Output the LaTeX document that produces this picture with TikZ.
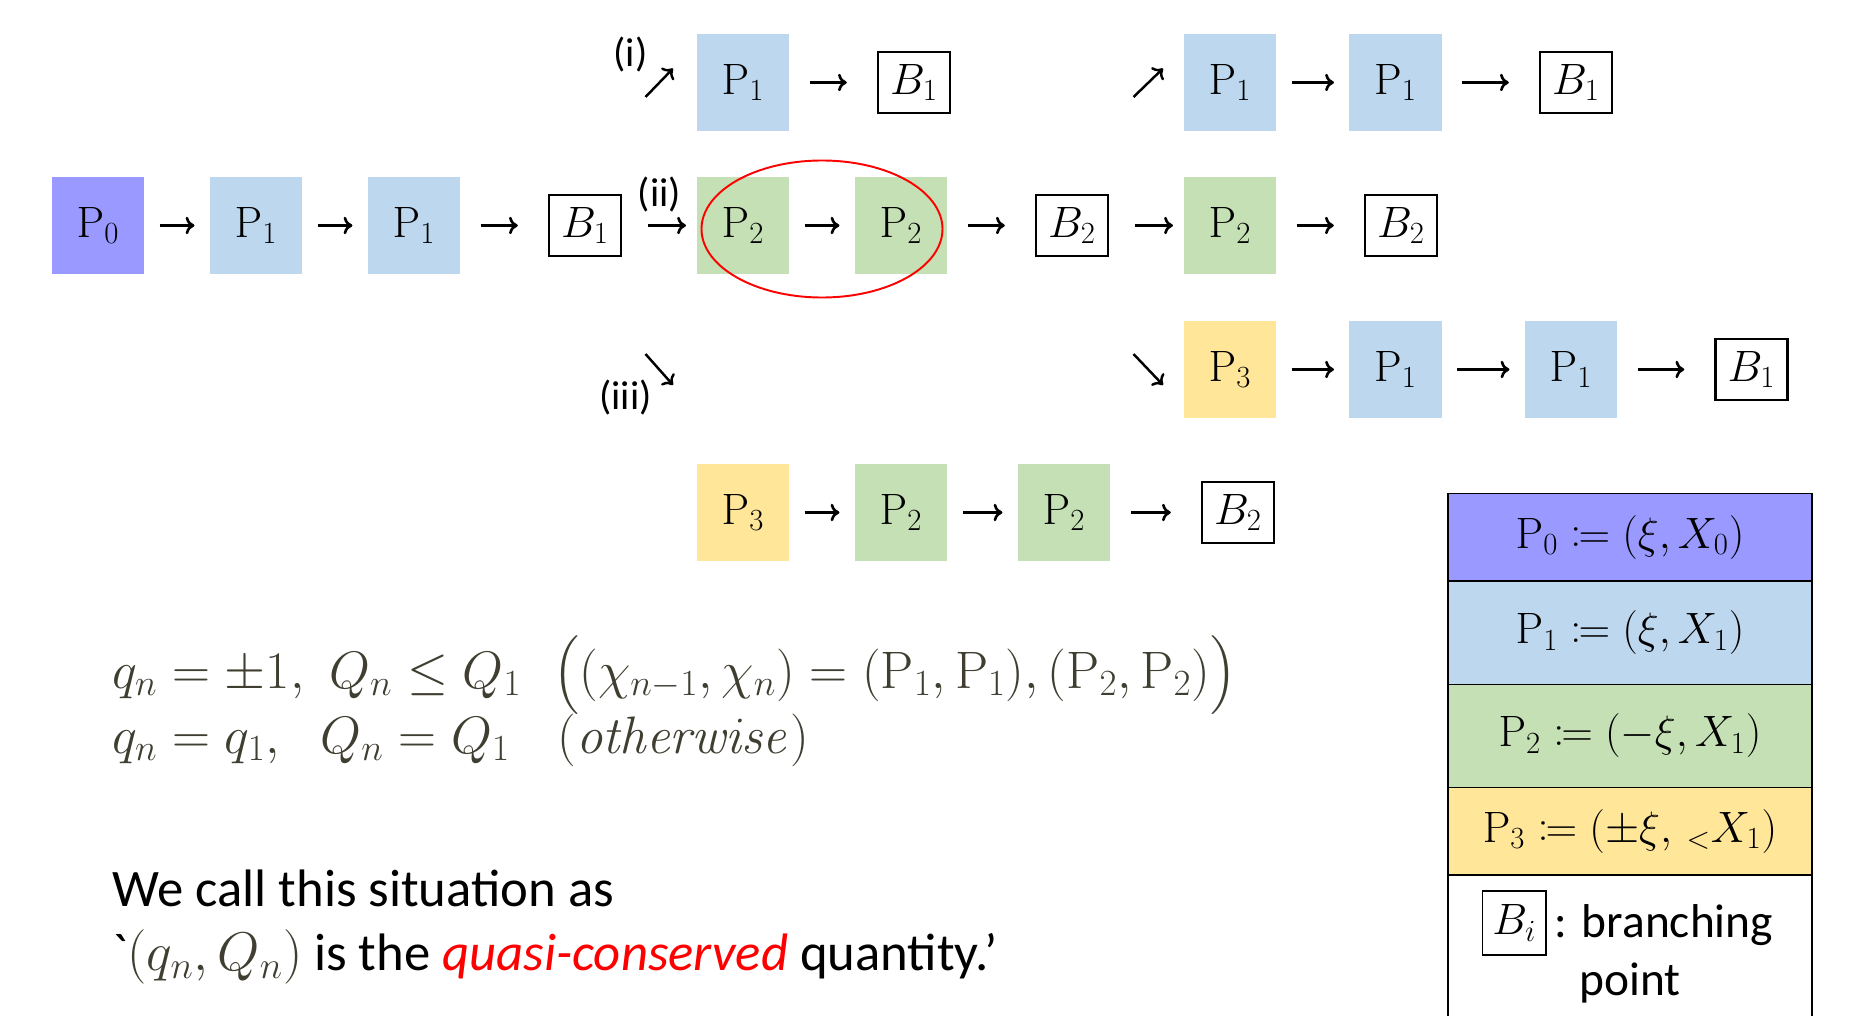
\RequirePackage{fix-cm}
\documentclass[tikz,border=0pt]{standalone}
\usepackage[no-math]{fontspec}
\usepackage{mathtools}
\usetikzlibrary{positioning,calc,arrows.meta}
\newfontfamily\slidefont{Carlito}
\definecolor{pzero}{HTML}{9999FF}
\definecolor{pone}{HTML}{BDD7EE}
\definecolor{ptwo}{HTML}{C5E0B4}
\definecolor{pthree}{HTML}{FFE699}
\definecolor{eqgray}{HTML}{3F3E31}

\begin{document}
\begin{tikzpicture}[
  node distance=3.16cm,
  >={To[length=5pt,width=10pt]},
  pbox/.style={
    minimum width=1.85cm,
    minimum height=1.94cm,
    inner sep=0pt,
    font=\fontsize{25}{29}\selectfont
  },
  bbox/.style={
    draw,
    line width=1.4pt,
    minimum width=1.44cm,
    minimum height=1.23cm,
    inner sep=0pt,
    font=\fontsize{25}{29}\selectfont
  },
  arrow/.style={->, line width=1.5pt, shorten <=0.3cm, shorten >=0.3cm},
  intob/.style={arrow, shorten <=0.4cm, shorten >=0.6cm},
  outofb/.style={arrow, shorten <=0.52cm, shorten >=0.21cm},
  branch/.style={->, line width=1.4pt},
  tag/.style={font=\slidefont\fontsize{23}{26}\selectfont, inner sep=0pt},
  legrow/.style={
    draw,
    line width=1.1pt,
    outer sep=0pt,
    minimum width=7.27cm,
    inner sep=0pt,
    font=\fontsize{25}{29}\selectfont
  },
  eqline/.style={font=\fontsize{30}{36}\selectfont, text=eqgray, inner sep=0pt, anchor=base west},
  slide/.style={font=\slidefont\fontsize{30}{36}\selectfont, inner sep=0pt, anchor=base west}
]
\useasboundingbox (0,0) rectangle (37.02,-20.32);

\node[pbox, fill=pzero] (p0) at (1.96,-4.51) {$\mathrm{P}_0$};
\node[pbox, fill=pone, right of=p0] (p1a) {$\mathrm{P}_1$};
\node[pbox, fill=pone, right of=p1a] (p1b) {$\mathrm{P}_1$};
\node[bbox, right of=p1b, xshift=0.26cm] (b1) {$B_1$};
\node[pbox, fill=ptwo, right of=b1] (p2a) {$\mathrm{P}_2$};
\node[pbox, fill=ptwo, right of=p2a] (p2b) {$\mathrm{P}_2$};
\node[bbox, right of=p2b, xshift=0.26cm] (b2) {$B_2$};
\node[pbox, fill=ptwo, right of=b2] (p2c) {$\mathrm{P}_2$};
\node[bbox, right of=p2c, xshift=0.26cm] (b2b) {$B_2$};

\node[pbox, fill=pone, node distance=2.86cm, above of=p2a] (up1) {$\mathrm{P}_1$};
\node[bbox, right of=up1, xshift=0.26cm] (upb1) {$B_1$};
\node[pbox, fill=pone, node distance=2.86cm, above of=p2c] (up2) {$\mathrm{P}_1$};
\node[pbox, fill=pone, right of=up2, xshift=0.15cm] (up3) {$\mathrm{P}_1$};
\node[bbox, right of=up3, xshift=0.45cm] (upb2) {$B_1$};

\node[pbox, fill=pthree, node distance=2.88cm, below of=p2c] (dn1) {$\mathrm{P}_3$};
\node[pbox, fill=pone, right of=dn1, xshift=0.15cm] (dn2) {$\mathrm{P}_1$};
\node[pbox, fill=pone, right of=dn2, xshift=0.35cm] (dn3) {$\mathrm{P}_1$};
\node[bbox, right of=dn3, xshift=0.45cm] (dnb) {$B_1$};

\node[pbox, fill=pthree, node distance=5.74cm, below of=p2a] (lo1) {$\mathrm{P}_3$};
\node[pbox, fill=ptwo, right of=lo1] (lo2) {$\mathrm{P}_2$};
\node[pbox, fill=ptwo, right of=lo2, xshift=0.1cm] (lo3) {$\mathrm{P}_2$};
\node[bbox, right of=lo3, xshift=0.32cm] (lob) {$B_2$};

\draw[arrow] (p0) -- (p1a);
\draw[arrow] (p1a) -- (p1b);
\draw[intob] (p1b) -- (b1);
\draw[outofb] (b1) -- node[tag, above=0.25cm] (tii) {(ii)} (p2a);
\draw[arrow] (p2a) -- (p2b);
\draw[intob] (p2b) -- (b2);
\draw[outofb] (b2) -- (p2c);
\draw[intob] (p2c) -- (b2b);

\draw[intob] (up1) -- (upb1);
\draw[arrow] (up2) -- (up3);
\draw[intob] (up3) -- (upb2);

\draw[arrow] (dn1) -- (dn2);
\draw[arrow] (dn2) -- (dn3);
\draw[intob] (dn3) -- (dnb);

\draw[arrow] (lo1) -- (lo2);
\draw[arrow] (lo2) -- (lo3);
\draw[intob] (lo3) -- (lob);

\coordinate (ia) at (12.91,-1.94);
\coordinate (ib) at (13.46,-1.37);
\coordinate (ja) at (22.67,-1.94);
\coordinate (jb) at (23.26,-1.37);
\coordinate (ka) at (12.91,-7.08);
\coordinate (kb) at (13.46,-7.70);
\coordinate (la) at (22.67,-7.08);
\coordinate (lb) at (23.26,-7.70);
\draw[branch] (ia) -- (ib);
\draw[branch] (ja) -- (jb);
\draw[branch] (ka) -- (kb);
\draw[branch] (la) -- (lb);
\node[tag] (ti) at (12.61,-1.09) {(i)};
\node[tag] (tiii) at (12.51,-7.96) {(iii)};

\draw[red, line width=1.1pt] ($(p2a)!0.5!(p2b)$) ++(0,-0.07) ellipse (2.41cm and 1.37cm);

\node[eqline] (eq1) at (2.24,-13.76) {$q_n=\pm1,\ Q_n\le Q_1\ \ \bigl((\chi_{n-1},\chi_n)=(\mathrm{P}_1,\mathrm{P}_1),(\mathrm{P}_2,\mathrm{P}_2)\bigr)$};
\node[eqline] (eq2) at (2.24,-15.06) {$q_n=q_1,\ \ Q_n=Q_1\ \ \ (\mathit{otherwise})$};

\node[slide] (say1) at (2.24,-18.13) {We call this situation as};
\node[slide] (say2) at (2.24,-19.41) {`\textcolor{eqgray}{\fontsize{31}{37}\selectfont$(q_n,Q_n)$} is the \textcolor{red}{\itshape quasi-conserved} quantity.’};

\node[legrow, fill=pzero, minimum height=1.75cm] (leg0) at (32.6,-10.745) {$\mathrm{P}_0\coloneqq(\xi,X_0)$};
\node[legrow, fill=pone, minimum height=2.07cm, below=0pt of leg0] (leg1) {$\mathrm{P}_1\coloneqq(\xi,X_1)$};
\node[legrow, fill=ptwo, minimum height=2.06cm, below=0pt of leg1] (leg2) {$\mathrm{P}_2\coloneqq(-\xi,X_1)$};
\node[legrow, fill=pthree, minimum height=1.75cm, below=0pt of leg2] (leg3) {$\mathrm{P}_3\coloneqq(\pm\xi,\,{}_{<}X_1)$};
\node[legrow, minimum height=3.12cm, below=0pt of leg3] (leg4) {};
\node[bbox, line width=1.1pt, minimum width=1.27cm, minimum height=1.27cm] (legb) at ([xshift=1.32cm, yshift=-0.96cm]leg4.north west) {$B_i$};
\node[tag, font=\slidefont\fontsize{27}{32}\selectfont, right=0.15cm of legb, yshift=-0.05cm] (legc) {: branching};
\node[tag, font=\slidefont\fontsize{27}{32}\selectfont, anchor=base] (legd) at ([yshift=-2.4cm]leg4.north) {point};
\end{tikzpicture}
\end{document}
